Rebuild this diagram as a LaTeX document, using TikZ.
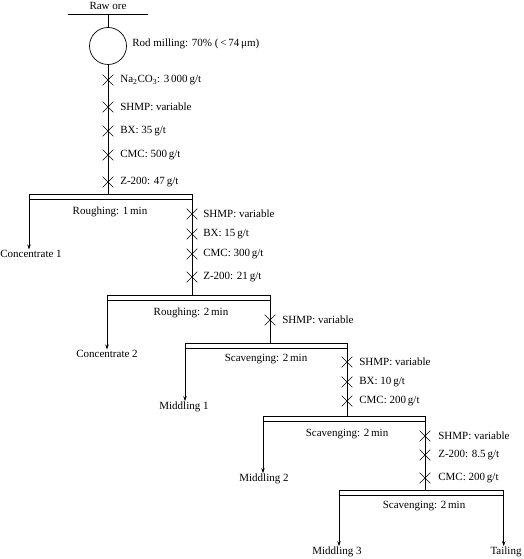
\documentclass[tikz,border=0pt]{standalone}
\usepackage{fontspec}
\setmainfont{Liberation Serif}
\usetikzlibrary{shapes.misc,arrows.meta}
\begin{document}
\begin{tikzpicture}[x=1pt,y=-1pt,line width=0.7pt,
  font=\fontsize{11}{13}\selectfont,
  lbl/.style={inner sep=0.5pt},
  rg/.style={inner sep=0pt,anchor=west},
  xmark/.style={cross out,draw,minimum size=10pt,inner sep=0pt,line width=0.6pt},
  bar/.style={draw,minimum height=5pt,inner sep=0pt,anchor=north west},
  arr/.style={-{Stealth[length=5pt,width=3.5pt]}}]
\useasboundingbox (0,0) rectangle (523,559);
\fill[white] (0,0) rectangle (523,559);

% feed and milling
\node[lbl] (raw) at (108,6) {Raw ore};
\coordinate (tl) at (68,14);
\coordinate (tr) at (148,14);
\coordinate (tm) at (108,14);
\draw (tl) -- (tr);
\node[draw,circle,minimum size=37pt,inner sep=0pt] (mill) at (108,46) {};
\draw (tm) -- (mill.north);
\node[rg] (millt) at (132,44) {Rod milling: 70\% (\,<\,74\,μm)};

% bars
\node[bar,minimum width=163pt] (b1) at (29,194) {};
\node[bar,minimum width=163pt] (b2) at (107,295) {};
\node[bar,minimum width=162pt] (b3) at (185,343) {};
\node[bar,minimum width=162pt] (b4) at (263,416) {};
\node[bar,minimum width=164pt] (b5) at (339,490) {};

% vertical feed lines
\draw (mill.south) -- (mill.south |- b1.north);
\draw (b1.south east) -- (b1.south east |- b2.north);
\draw (b2.south east) -- (b2.south east |- b3.north);
\draw (b3.south east) -- (b3.south east |- b4.north);
\draw (b4.south east) -- (b4.south east |- b5.north);

% stage labels
\node[lbl] (s1) at (110,212) {Roughing: 1\,min};
\node[lbl] (s2) at (191,313) {Roughing: 2\,min};
\node[lbl] (s3) at (266,359) {Scavenging: 2\,min};
\node[lbl] (s4) at (347,434) {Scavenging: 2\,min};
\node[lbl] (s5) at (424,506) {Scavenging: 2\,min};

% products
\node[lbl] (c1) at (31,254) {Concentrate 1};
\node[lbl] (c2) at (107,354) {Concentrate 2};
\node[lbl] (m1) at (184,407) {Middling 1};
\node[lbl] (m2) at (264,479) {Middling 2};
\node[lbl] (m3) at (337,552) {Middling 3};
\node[lbl] (tail) at (506,552) {Tailing};

\draw[arr] (b1.south west) -- (b1.south west |- c1.north);
\draw[arr] (b2.south west) -- (b2.south west |- c2.north);
\draw[arr] (b3.south west) -- (b3.south west |- m1.north);
\draw[arr] (b4.south west) -- (b4.south west |- m2.north);
\draw[arr] (b5.south west) -- (b5.south west |- m3.north);
\draw[arr] (b5.south east) -- (b5.south east |- tail.north);

% reagents, line 1
\node[xmark] (x11) at (108,80) {};
\node[xmark] (x12) at (108,107) {};
\node[xmark] (x13) at (108,131) {};
\node[xmark] (x14) at (108,155) {};
\node[xmark] (x15) at (108,182) {};
\node[rg] (r11) at (120,80) {Na\textsubscript{2}CO\textsubscript{3}: 3\,000\,g/t};
\node[rg] (r12) at (120,107) {SHMP: variable};
\node[rg] (r13) at (120,131) {BX: 35\,g/t};
\node[rg] (r14) at (120,155) {CMC: 500\,g/t};
\node[rg] (r15) at (120,182) {Z-200: 47\,g/t};

% reagents, line 2
\node[xmark] (x21) at (192,214) {};
\node[xmark] (x22) at (192,234) {};
\node[xmark] (x23) at (192,254) {};
\node[xmark] (x24) at (192,277) {};
\node[rg] (r21) at (203,214) {SHMP: variable};
\node[rg] (r22) at (203,234) {BX: 15\,g/t};
\node[rg] (r23) at (203,254) {CMC: 300\,g/t};
\node[rg] (r24) at (203,277) {Z-200: 21\,g/t};

% reagents, line 3
\node[xmark] (x31) at (270,320) {};
\node[rg] (r31) at (282,320) {SHMP: variable};

% reagents, line 4
\node[xmark] (x41) at (347,362) {};
\node[xmark] (x42) at (347,382) {};
\node[xmark] (x43) at (347,401) {};
\node[rg] (r41) at (359,362) {SHMP: variable};
\node[rg] (r42) at (359,382) {BX: 10\,g/t};
\node[rg] (r43) at (359,401) {CMC: 200\,g/t};

% reagents, line 5
\node[xmark] (x51) at (425,436) {};
\node[xmark] (x52) at (425,455) {};
\node[xmark] (x53) at (425,478) {};
\node[rg] (r51) at (438,436) {SHMP: variable};
\node[rg] (r52) at (438,455) {Z-200: 8.5\,g/t};
\node[rg] (r53) at (438,478) {CMC: 200\,g/t};
\end{tikzpicture}
\end{document}
